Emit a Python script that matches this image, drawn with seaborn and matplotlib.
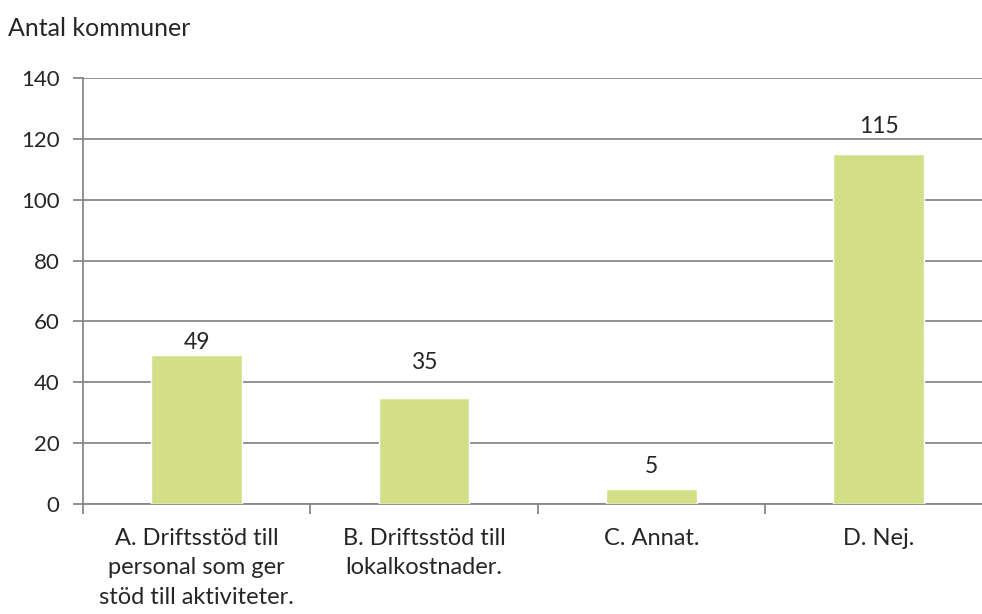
import matplotlib
matplotlib.use("Agg")
import matplotlib.pyplot as plt
import seaborn as sns
import pandas as pd

categories = ["A. Driftsstöd till\npersonal som ger\nstöd till aktiviteter.",
              "B. Driftsstöd till\nlokalkostnader.",
              "C. Annat.",
              "D. Nej."]
values = [49, 35, 5, 115]
y_ticks = [0, 20, 40, 60, 80, 100, 120, 140]
# the labels sit at uneven heights above the bars in the original
label_pad = [1.5, 17.5, 8.5, 12]

sns.set_style("white")
plt.rcParams["font.family"] = ["Lato", "DejaVu Sans"]

df = pd.DataFrame({"kategori": categories, "antal": values})

fig = plt.figure(figsize=(9.82, 6.14), dpi=100)
# plot area runs a little past the right edge, like the original export
ax = fig.add_axes([0.0845, 0.179, 0.926, 0.694])

sns.barplot(data=df, x="kategori", y="antal", color="#D3DF87", saturation=1,
            width=0.4, ax=ax, zorder=3)
for bar, v, p in zip(ax.patches, values, label_pad):
    ax.annotate(str(v), (bar.get_x() + bar.get_width() / 2, bar.get_height()),
                xytext=(0, p), textcoords="offset points",
                ha="center", va="bottom", fontsize=16.5)

ax.set_ylim(0, 140)
ax.set_yticks(y_ticks)
ax.set_xlim(-0.5, 3.5)
ax.yaxis.grid(True, color="#888888", linewidth=1.3, zorder=0)
ax.set_axisbelow(True)

for s in ["top", "right"]:
    ax.spines[s].set_visible(False)
for s in ["left", "bottom"]:
    ax.spines[s].set_color("#888888")
    ax.spines[s].set_linewidth(1.3)

ax.set_xlabel("")
ax.set_ylabel("")
ax.tick_params(axis="y", labelsize=16, length=7, width=1.3, color="#888888",
               left=True, pad=10)
ax.set_xticks(range(len(categories)), labels=categories, fontsize=17,
              linespacing=1.5)
ax.tick_params(axis="x", length=0, pad=17)
ax.set_xticks([-0.5, 0.5, 1.5, 2.5, 3.5], minor=True)
ax.tick_params(axis="x", which="minor", bottom=True, length=7, width=1.3,
               color="#888888")

fig.text(0.008, 0.953, "Antal kommuner", fontsize=18, va="center", ha="left")

fig.savefig("out.png", dpi=100)
